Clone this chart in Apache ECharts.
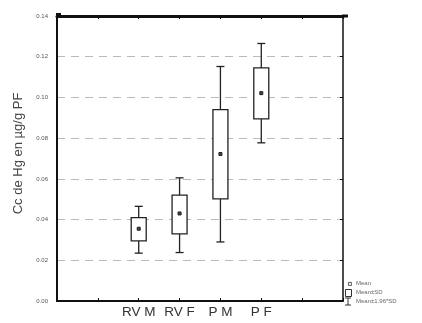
<!DOCTYPE html>
<html><head><meta charset="utf-8">
<script src="https://cdn.jsdelivr.net/npm/echarts@6/dist/echarts.min.js"></script>
<style>html,body{margin:0;padding:0;background:#fff}#c{width:422px;height:323px}</style>
</head><body><div id="c"></div>
<script>
var categories = ['RV M', 'RV F', 'P M', 'P F'];
var catPositions = [2, 3, 4, 5];
var means = [0.0355, 0.0430, 0.0722, 0.1021];
var sdLow = [0.0295, 0.0330, 0.0502, 0.0895];
var sdHigh = [0.0410, 0.0520, 0.0940, 0.1145];
var ciLow = [0.0235, 0.0238, 0.0290, 0.0777];
var ciHigh = [0.0465, 0.0605, 0.1152, 0.1265];
var yTicks = [0, 0.02, 0.04, 0.06, 0.08, 0.10, 0.12, 0.14];

var data = categories.map(function (c, i) {
  return [catPositions[i], means[i], sdLow[i], sdHigh[i], ciLow[i], ciHigh[i]];
});

var chart = echarts.init(document.getElementById('c'));
var font = 'Liberation Sans, Arial, sans-serif';
chart.setOption({
  animation: false,
  backgroundColor: '#fff',
  grid: { left: 57, right: 79, top: 16, bottom: 22 },
  xAxis: [{
    type: 'value', min: 0, max: 7, interval: 1, position: 'bottom',
    axisLine: { onZero: false, lineStyle: { color: '#111', width: 2 } },
    axisTick: { inside: true, length: 3, lineStyle: { color: '#111' } },
    splitLine: { show: false },
    axisLabel: {
      fontFamily: font, fontSize: 13.5, color: '#333', margin: 4,
      formatter: function (v) { var k = catPositions.indexOf(v); return k >= 0 ? categories[k] : ''; }
    }
  }, {
    type: 'value', min: 0, max: 7, interval: 1, position: 'top',
    axisLine: { onZero: false, lineStyle: { color: '#111', width: 3 } },
    axisTick: { inside: true, length: 3, lineStyle: { color: '#111' } },
    splitLine: { show: false }, axisLabel: { show: false }
  }],
  yAxis: [{
    type: 'value', min: 0, max: 0.14, interval: 0.02,
    name: 'Cc de Hg en µg/g PF', nameLocation: 'middle', nameGap: 32,
    nameTextStyle: { fontFamily: font, fontSize: 13, color: '#444', padding: [0, 0, 0, 10] },
    axisLine: { show: true, onZero: false, lineStyle: { color: '#111', width: 2 } },
    axisTick: { show: false },
    axisLabel: {
      fontFamily: font, fontSize: 6, color: '#555', margin: 9,
      formatter: function (v) { return v.toFixed(2); }
    },
    splitLine: { show: true, lineStyle: { color: '#bbb', type: [8, 6], width: 1 } }
  }, {
    type: 'value', min: 0, max: 0.14, interval: 0.02, position: 'right',
    axisLine: { show: true, onZero: false, lineStyle: { color: '#111', width: 1.5 } },
    axisTick: { show: true, inside: true, length: 3, lineStyle: { color: '#111' } },
    axisLabel: { show: false }, splitLine: { show: false }
  }],
  series: [{
    type: 'custom',
    data: data,
    renderItem: function (params, api) {
      var x = api.value(0);
      var m = api.coord([x, api.value(1)]);
      var sl = api.coord([x, api.value(2)]);
      var sh = api.coord([x, api.value(3)]);
      var cl = api.coord([x, api.value(4)]);
      var ch = api.coord([x, api.value(5)]);
      var bw = 15, cw = 8;
      var st = { stroke: '#222', lineWidth: 1.3, fill: null };
      return {
        type: 'group',
        children: [
          { type: 'line', shape: { x1: m[0], y1: sh[1], x2: m[0], y2: ch[1] }, style: st },
          { type: 'line', shape: { x1: m[0], y1: sl[1], x2: m[0], y2: cl[1] }, style: st },
          { type: 'line', shape: { x1: m[0] - cw / 2, y1: ch[1], x2: m[0] + cw / 2, y2: ch[1] }, style: st },
          { type: 'line', shape: { x1: m[0] - cw / 2, y1: cl[1], x2: m[0] + cw / 2, y2: cl[1] }, style: st },
          { type: 'rect', shape: { x: m[0] - bw / 2, y: sh[1], width: bw, height: sl[1] - sh[1] },
            style: { stroke: '#222', lineWidth: 1.3, fill: '#fff' } },
          { type: 'rect', shape: { x: m[0] - 1.5, y: m[1] - 1.5, width: 3, height: 3 },
            style: { stroke: '#222', lineWidth: 1, fill: '#444' } }
        ]
      };
    }
  }],
  graphic: [
    { type: 'rect', left: 56, top: 13, shape: { width: 5, height: 5 }, style: { fill: '#111' } },
    { type: 'line', shape: { x1: 342, y1: 16, x2: 348, y2: 16 }, style: { stroke: '#111', lineWidth: 3 } },
    { type: 'rect', left: 348, top: 282, shape: { width: 3, height: 3 }, style: { stroke: '#333', lineWidth: 0.8, fill: '#fff' } },
    { type: 'text', left: 356, top: 280, style: { text: 'Mean', fontSize: 6, fontFamily: font, fill: '#666' } },
    { type: 'rect', left: 345, top: 289, shape: { width: 6, height: 7 }, style: { stroke: '#333', lineWidth: 1, fill: '#fff' } },
    { type: 'text', left: 356, top: 289, style: { text: 'Mean±SD', fontSize: 6, fontFamily: font, fill: '#666' } },
    { type: 'line', shape: { x1: 345, y1: 298, x2: 351, y2: 298 }, style: { stroke: '#333', lineWidth: 1 } },
    { type: 'line', shape: { x1: 348, y1: 298, x2: 348, y2: 305 }, style: { stroke: '#333', lineWidth: 1 } },
    { type: 'line', shape: { x1: 345, y1: 305, x2: 351, y2: 305 }, style: { stroke: '#333', lineWidth: 1 } },
    { type: 'text', left: 356, top: 298, style: { text: 'Mean±1.96*SD', fontSize: 6, fontFamily: font, fill: '#666' } }
  ]
});
</script></body></html>
